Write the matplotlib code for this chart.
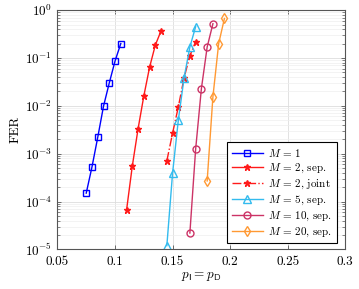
import numpy as np
import matplotlib
matplotlib.use("Agg")
import matplotlib.pyplot as plt
from matplotlib.ticker import LogLocator, NullFormatter

plt.rcParams['font.family'] = ['cmr10', 'DejaVu Serif']
plt.rcParams['mathtext.fontset'] = 'cm'
plt.rcParams['axes.formatter.use_mathtext'] = True
plt.rcParams['font.size'] = 9.5

# Data
p_m1 = [0.075, 0.080, 0.085, 0.090, 0.095, 0.100, 0.105]
fer_m1 = [1.5e-4, 5.3e-4, 2.2e-3, 9.8e-3, 3.0e-2, 8.6e-2, 2.0e-1]

p_m2s = [0.110, 0.115, 0.120, 0.125, 0.130, 0.135, 0.140]
fer_m2s = [6.6e-5, 5.5e-4, 3.3e-3, 1.6e-2, 6.4e-2, 1.86e-1, 3.7e-1]

p_m2j = [0.145, 0.150, 0.155, 0.160, 0.165, 0.170]
fer_m2j = [7.1e-4, 2.7e-3, 9.6e-3, 3.9e-2, 1.11e-1, 2.2e-1]

p_m5 = [0.145, 0.150, 0.155, 0.160, 0.165, 0.170]
fer_m5 = [1.2e-5, 4.0e-4, 5.1e-3, 3.9e-2, 1.7e-1, 4.5e-1]

p_m10 = [0.165, 0.170, 0.175, 0.180, 0.185]
fer_m10 = [2.2e-5, 1.24e-3, 2.3e-2, 1.69e-1, 5.2e-1]

p_m20 = [0.180, 0.185, 0.190, 0.195]
fer_m20 = [2.7e-4, 1.55e-2, 2.0e-1, 6.7e-1]

labels = [r'$M\,=\,1$', r'$M\,=\,2$, sep.', r'$M\,=\,2$, joint',
          r'$M\,=\,5$, sep.', r'$M\,=\,10$, sep.', r'$M\,=\,20$, sep.']

fig = plt.figure(figsize=(3.59, 2.89), dpi=100)
ax = fig.add_axes([0.160, 0.137, 0.802, 0.828])

ms = 5
ax.plot(p_m1, fer_m1, color='#0000ff', marker='s', mfc='none', ms=ms, lw=1, label=labels[0])
ax.plot(p_m2s, fer_m2s, color='#ff1a1a', marker='*', ms=4.5, lw=1, label=labels[1])
ax.plot(p_m2j, fer_m2j, color='#ff1a1a', marker='*', ms=4.5, lw=1, ls='-.', label=labels[2])
ax.plot(p_m5, fer_m5, color='#33bbee', marker='^', mfc='none', ms=5.5, lw=1, label=labels[3])
ax.plot(p_m10, fer_m10, color='#cc3366', marker='o', mfc='none', ms=ms, lw=1, label=labels[4])
ax.plot(p_m20, fer_m20, color='#ff9933', marker='d', mfc='none', ms=5.5, lw=1, label=labels[5])

ax.set_yscale('log')
ax.set_xlim(0.05, 0.3)
ax.set_ylim(1e-5, 1)
ax.set_xticks([0.05, 0.1, 0.15, 0.2, 0.25, 0.3])
ax.set_xticklabels(['0.05', '0.1', '0.15', '0.2', '0.25', '0.3'])
ax.yaxis.set_major_locator(LogLocator(base=10, numticks=10))
ax.yaxis.set_minor_locator(LogLocator(base=10, subs=np.arange(2, 10), numticks=20))
ax.yaxis.set_minor_formatter(NullFormatter())

ax.grid(True, which='major', color='#dddddd', lw=0.6)
ax.grid(True, which='minor', axis='y', color='#eeeeee', lw=0.5)
ax.set_axisbelow(True)
ax.tick_params(which='both', direction='in', top=True, right=True, colors='#555555', labelcolor='black')
ax.tick_params(which='major', length=3, width=0.6)
ax.tick_params(which='minor', length=2, width=0.5)
ax.tick_params(axis='x', pad=5)
ax.tick_params(axis='y', pad=4)
for s in ax.spines.values():
    s.set_color('#555555')
    s.set_linewidth(0.8)

ax.set_xlabel(r'$p_{\mathsf{I}} = p_{\mathsf{D}}$', labelpad=1)
ax.set_ylabel('FER', labelpad=2)

leg = ax.legend(loc='lower right', fontsize=8, fancybox=False, framealpha=1,
                edgecolor='black', borderpad=0.4, labelspacing=0.25,
                handlelength=2.8, handletextpad=0.5, borderaxespad=0,
                bbox_to_anchor=(0.97, 0.025))
leg.get_frame().set_linewidth(0.8)

fig.savefig('out.png', dpi=100)
